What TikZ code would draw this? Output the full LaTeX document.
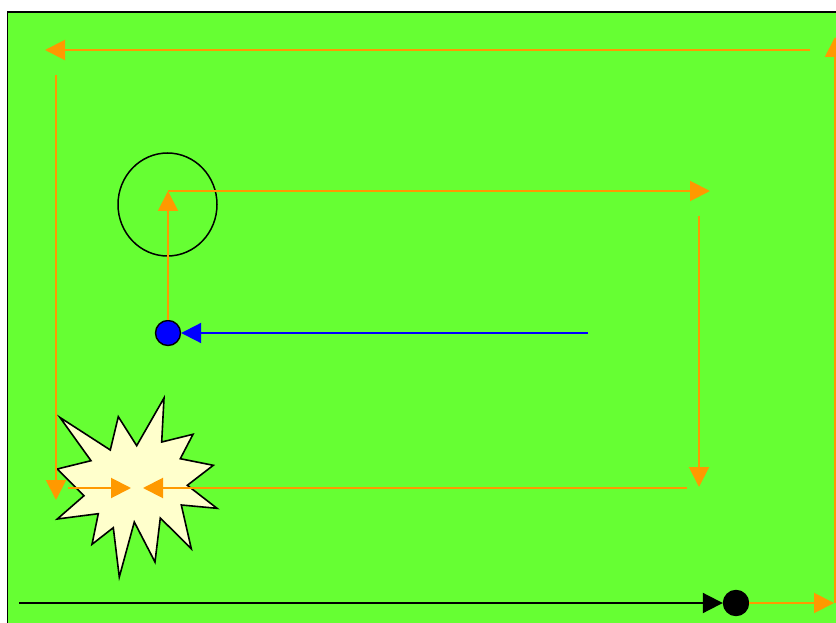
\documentclass[tikz,border=0pt]{standalone}
\usepackage{tikz}
\usetikzlibrary{arrows.meta}
\definecolor{fieldgreen}{HTML}{66FF33}
\definecolor{pathorange}{HTML}{FF9900}
\definecolor{starfill}{HTML}{FFFFCC}
\tikzset{
  field/.style={draw=black,fill=fieldgreen,line width=1.5pt},
  route/.style={-{Triangle[length=20pt,width=20pt]},pathorange,line width=2pt},
  bluepath/.style={-{Triangle[length=20pt,width=20pt]},blue,line width=2pt},
  blackpath/.style={-{Triangle[length=20pt,width=20pt]},black,line width=2pt},
  dot/.style={circle,draw,line width=1.4pt,inner sep=0pt,minimum size=25pt},
  burst/.style={draw=black,fill=starfill,line width=1.6pt,line join=miter},
  ring/.style={draw=black,line width=1.5pt}
}

\begin{document}
\begin{tikzpicture}[x=1pt,y=-1pt]
\useasboundingbox (0,0) rectangle (836,623);
\clip (0,0) rectangle (836,623);
\draw[field] (7.5,12) rectangle (845,635);
% explosion
\draw[burst] (60,417.5)--(110.3,450)--(118.3,416.7)--(136.7,445.7)--(164,398)--(161.7,442)
  --(193,434.3)--(180.3,458.7)--(213.3,465.3)--(187.3,485.3)--(217,508.3)--(181.3,505)
  --(191.3,548.7)--(160.3,518)--(155,562)--(134.3,522)--(119.3,577)--(113.3,527.7)
  --(92,544.3)--(98.3,513.7)--(57.3,519)--(84,495.7)--(57.3,469)--(91,460.7)--cycle;
\draw[ring] (167.5,204.5) ellipse (49.5 and 51.5);
\node[dot,fill=blue] (bluedot) at (168,333) {};
\node[dot,fill=black] (blackdot) at (736,603) {};
% ends of the outer lap
\coordinate (topright) at (810,50);
\coordinate (topleft) at (45,50);
\coordinate (leftup) at (56,75);
\coordinate (leftdown) at (56,500);
\coordinate (hitleft) at (68,488);
\coordinate (hitlefttip) at (131,488);
\coordinate (exitcorner) at (835,603);
\coordinate (exittip) at (835,37);
\coordinate (exitarrow) at (834,603);
% ends of the inner lap
\coordinate (innercorner) at (168,191);
\coordinate (innertip) at (710,191);
\coordinate (rightup) at (699,216);
\coordinate (rightdown) at (699,487);
\coordinate (hitright) at (687,488);
\coordinate (hitrighttip) at (143,488);
\coordinate (bluestart) at (588,333);
\coordinate (blackstart) at (19,603);
\draw[blackpath] (blackstart) -- (blackdot);
\draw[route] (blackdot) -- (exitarrow);
\draw[route] (exitcorner) -- (exittip);
\draw[route] (topright) -- (topleft);
\draw[route] (leftup) -- (leftdown);
\draw[route] (hitleft) -- (hitlefttip);
\draw[bluepath] (bluestart) -- (bluedot);
\draw[route] (bluedot) -- (innercorner);
\draw[route] (innercorner) -- (innertip);
\draw[route] (rightup) -- (rightdown);
\draw[route] (hitright) -- (hitrighttip);
\end{tikzpicture}
\end{document}
